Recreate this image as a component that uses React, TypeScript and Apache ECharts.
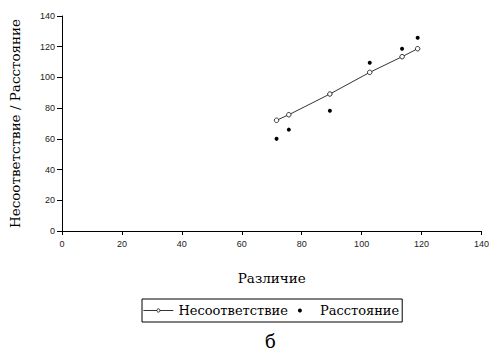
import React, { useEffect, useRef } from "react";
import * as echarts from "echarts";

const difference = [71.6, 75.7, 89.4, 102.7, 113.5, 118.7];
const mismatch = [72.1, 75.7, 89.2, 103.3, 113.5, 118.7];
const distance = [60, 66, 78.3, 109.6, 118.7, 125.9];
const seriesNames = ["Несоответствие", "Расстояние"];
const xTitle = "Различие";
const yTitle = "Несоответствие / Расстояние";
const caption = "б";

export default function App() {
  const ref = useRef<HTMLDivElement>(null);
  useEffect(() => {
    if (!ref.current) return;
    const chart = echarts.init(ref.current, undefined, { renderer: "svg" });
    const serif = "DejaVu Serif";
    const sans = "Arial";
    chart.setOption({
      animation: false,
      backgroundColor: "#fff",
      grid: { left: 59, right: 4, top: 16, bottom: 123, containLabel: false },
      title: {
        text: caption,
        left: 265,
        top: 332,
        padding: 0,
        textStyle: { fontFamily: serif, fontSize: 18, fontWeight: "normal", color: "#000" },
      },
      legend: {
        left: 142,
        top: 299,
        padding: [5, 3, 5, 1],
        itemWidth: 30,
        itemHeight: 4,
        itemGap: 10,
        borderColor: "#000",
        borderWidth: 1,
        borderRadius: 0,
        textStyle: { fontFamily: serif, fontSize: 13, color: "#000" },
        data: [
          {
            name: seriesNames[0],
            itemStyle: { color: "#fff", borderColor: "#000", borderWidth: 0.8 },
            lineStyle: { color: "#000", width: 0.8 },
          },
          { name: seriesNames[1], itemStyle: { color: "#000" } },
        ],
      },
      xAxis: {
        type: "value",
        min: 0,
        max: 140,
        interval: 20,
        name: xTitle,
        nameLocation: "middle",
        nameGap: 40,
        nameTextStyle: { fontFamily: serif, fontSize: 13.5, color: "#000" },
        splitLine: { show: false },
        axisLine: { lineStyle: { color: "#000", width: 1 } },
        axisTick: { show: true, length: 4, lineStyle: { color: "#000" } },
        axisLabel: { fontFamily: sans, fontSize: 9, color: "#222", margin: 8 },
      },
      yAxis: {
        type: "value",
        min: 0,
        max: 140,
        interval: 20,
        name: yTitle,
        nameLocation: "middle",
        nameGap: 40,
        nameTextStyle: { fontFamily: serif, fontSize: 13.5, color: "#000" },
        splitLine: { show: false },
        axisLine: { show: true, lineStyle: { color: "#000", width: 1 } },
        axisTick: { show: true, length: 5, lineStyle: { color: "#000" } },
        axisLabel: { fontFamily: sans, fontSize: 9, color: "#222", margin: 7 },
      },
      series: [
        {
          name: seriesNames[0],
          type: "line",
          data: difference.map((x, i) => [x, mismatch[i]]),
          symbol: "circle",
          symbolSize: 4.5,
          lineStyle: { color: "#000", width: 0.8 },
          itemStyle: { color: "#fff", borderColor: "#000", borderWidth: 0.8 },
          emphasis: { disabled: true },
        },
        {
          name: seriesNames[1],
          type: "scatter",
          data: difference.map((x, i) => [x, distance[i]]),
          symbol: "circle",
          symbolSize: 4,
          itemStyle: { color: "#000", opacity: 1 },
          emphasis: { disabled: true },
        },
      ],
    });
    return () => chart.dispose();
  }, []);
  return (
    <div
      ref={ref}
      style={{ position: "absolute", left: 0, top: 0, width: 492, height: 354, background: "#fff" }}
    />
  );
}
